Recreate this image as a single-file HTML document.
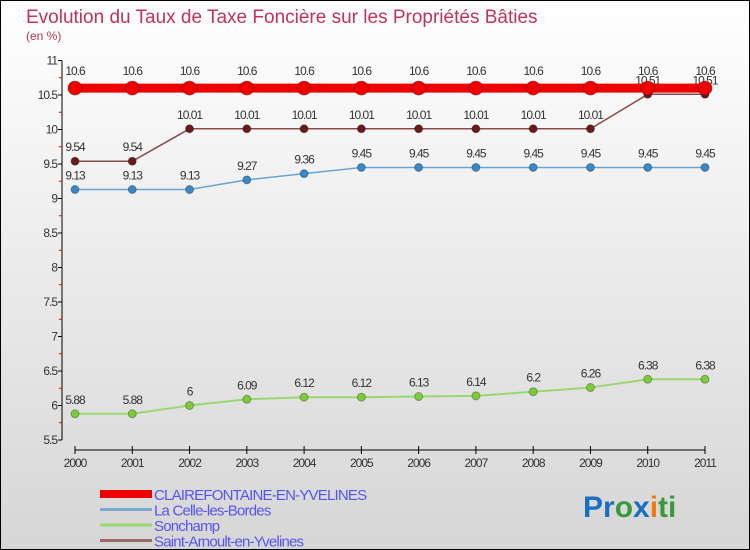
<!DOCTYPE html>
<html><head><meta charset="utf-8"><style>
html,body{margin:0;padding:0}
body{width:750px;height:550px;overflow:hidden;font-family:"Liberation Sans",sans-serif}
svg{display:block}
</style></head><body>
<svg id="chart" width="750" height="550" xmlns="http://www.w3.org/2000/svg">
<defs><linearGradient id="bg" x1="0" y1="0" x2="0" y2="1"><stop offset="0" stop-color="#ffffff"/><stop offset="1" stop-color="#d6d6d6"/></linearGradient></defs>
<rect x="0.5" y="0.5" width="749" height="549" fill="url(#bg)" stroke="#000"/>
<text x="26" y="23" font-size="19" fill="#c0335a">Evolution du Taux de Taxe Foncière sur les Propriétés Bâties</text>
<text x="26" y="40" font-size="12" fill="#c0335a">(en %)</text>
<g id="axes"></g><g id="series"></g><g id="legend"></g>
<text x="583" y="517" font-size="30" font-weight="bold"><tspan fill="#1a6fc0">Pr</tspan><tspan fill="#3a9a3a">o</tspan><tspan fill="#1a6fc0">x</tspan><tspan fill="#f07a10">i</tspan><tspan fill="#3a9a3a">ti</tspan></text>
</svg>
<script>
const years=[2000,2001,2002,2003,2004,2005,2006,2007,2008,2009,2010,2011];
const clairefontaine=[10.6,10.6,10.6,10.6,10.6,10.6,10.6,10.6,10.6,10.6,10.6,10.6];
const laCelle=[9.13,9.13,9.13,9.27,9.36,9.45,9.45,9.45,9.45,9.45,9.45,9.45];
const sonchamp=[5.88,5.88,6,6.09,6.12,6.12,6.13,6.14,6.2,6.26,6.38,6.38];
const saintArnoult=[9.54,9.54,10.01,10.01,10.01,10.01,10.01,10.01,10.01,10.01,10.51,10.51];
const yTicks=[5.5,6,6.5,7,7.5,8,8.5,9,9.5,10,10.5,11];
const seriesNames=["CLAIREFONTAINE-EN-YVELINES","La Celle-les-Bordes","Sonchamp","Saint-Arnoult-en-Yvelines"];
const NS="http://www.w3.org/2000/svg";
const X=i=>75+i*(630/(years.length-1));
const Y=v=>440-(v-5.5)*69;
function mk(p,tag,at){const e=document.createElementNS(NS,tag);for(const k in at)e.setAttribute(k,at[k]);p.appendChild(e);return e;}
const ax=document.getElementById('axes');
let l=mk(ax,'line',{x1:62,y1:Y(11),x2:62,y2:Y(5.5),stroke:'#000'});

yTicks.forEach(v=>{
  mk(ax,'line',{x1:58,y1:Y(v),x2:62,y2:Y(v),stroke:'#000'});
  if(v<11)mk(ax,'line',{x1:59,y1:Y(v+0.25),x2:62,y2:Y(v+0.25),stroke:'#e00'});
  const t=mk(ax,'text',{x:57,y:Y(v)+4,'text-anchor':'end','font-size':12,fill:'#333','letter-spacing':'-1'});t.textContent=v;
  
});
l=mk(ax,'line',{x1:X(0),y1:450,x2:X(years.length-1),y2:450,stroke:'#000'});

years.forEach((y,i)=>{
  mk(ax,'line',{x1:X(i),y1:446,x2:X(i),y2:454,stroke:'#000'});
  const t=mk(ax,'text',{x:X(i),y:467,'text-anchor':'middle','font-size':12,fill:'#333','letter-spacing':'-1'});t.textContent=y;
  
});
const sg=document.getElementById('series');
function draw(vals,name,color,lw,r,dot,lbl){
  const g=mk(sg,'g',{});
  
  mk(g,'polyline',{points:vals.map((v,i)=>X(i)+','+Y(v)).join(' '),fill:'none',stroke:color,'stroke-width':lw});
  vals.forEach((v,i)=>{
    const c=mk(g,'circle',{cx:X(i),cy:Y(v),r:r,fill:dot,stroke:'rgba(0,0,0,0.3)'});
    
    const t=mk(g,'text',{x:X(i),y:Y(v)-lbl,'text-anchor':'middle','font-size':12,fill:'#333','letter-spacing':'-1'});t.textContent=v;
    
  });
}
draw(sonchamp,'sonchamp-series','#99d870',2,4,'#7ecb3a',10);
draw(laCelle,'la-celle-series','#6aa4d4',1.5,4,'#3a88c8',10);
draw(saintArnoult,'saint-arnoult-series','#8a4a4a',1.5,4,'#6a1a1a',10);
draw(clairefontaine,'clairefontaine-series','#ee0000',9,7,'#ee0000',13);
const lg=document.getElementById('legend');
const lcol=['#ee0000','#7aaad0','#99d870','#9a6a6a'];const lw=[8,3,3,3];
seriesNames.forEach((n,i)=>{
  const y=494+i*15.5;
  const g=mk(lg,'g',{});
  mk(g,'line',{x1:100,y1:y,x2:152,y2:y,stroke:lcol[i],'stroke-width':lw[i]});
  const t=mk(g,'text',{x:154,y:y+6,'font-size':15,fill:'#5555ee','letter-spacing':'-0.8'});t.textContent=n;
});
</script>
</body></html>
